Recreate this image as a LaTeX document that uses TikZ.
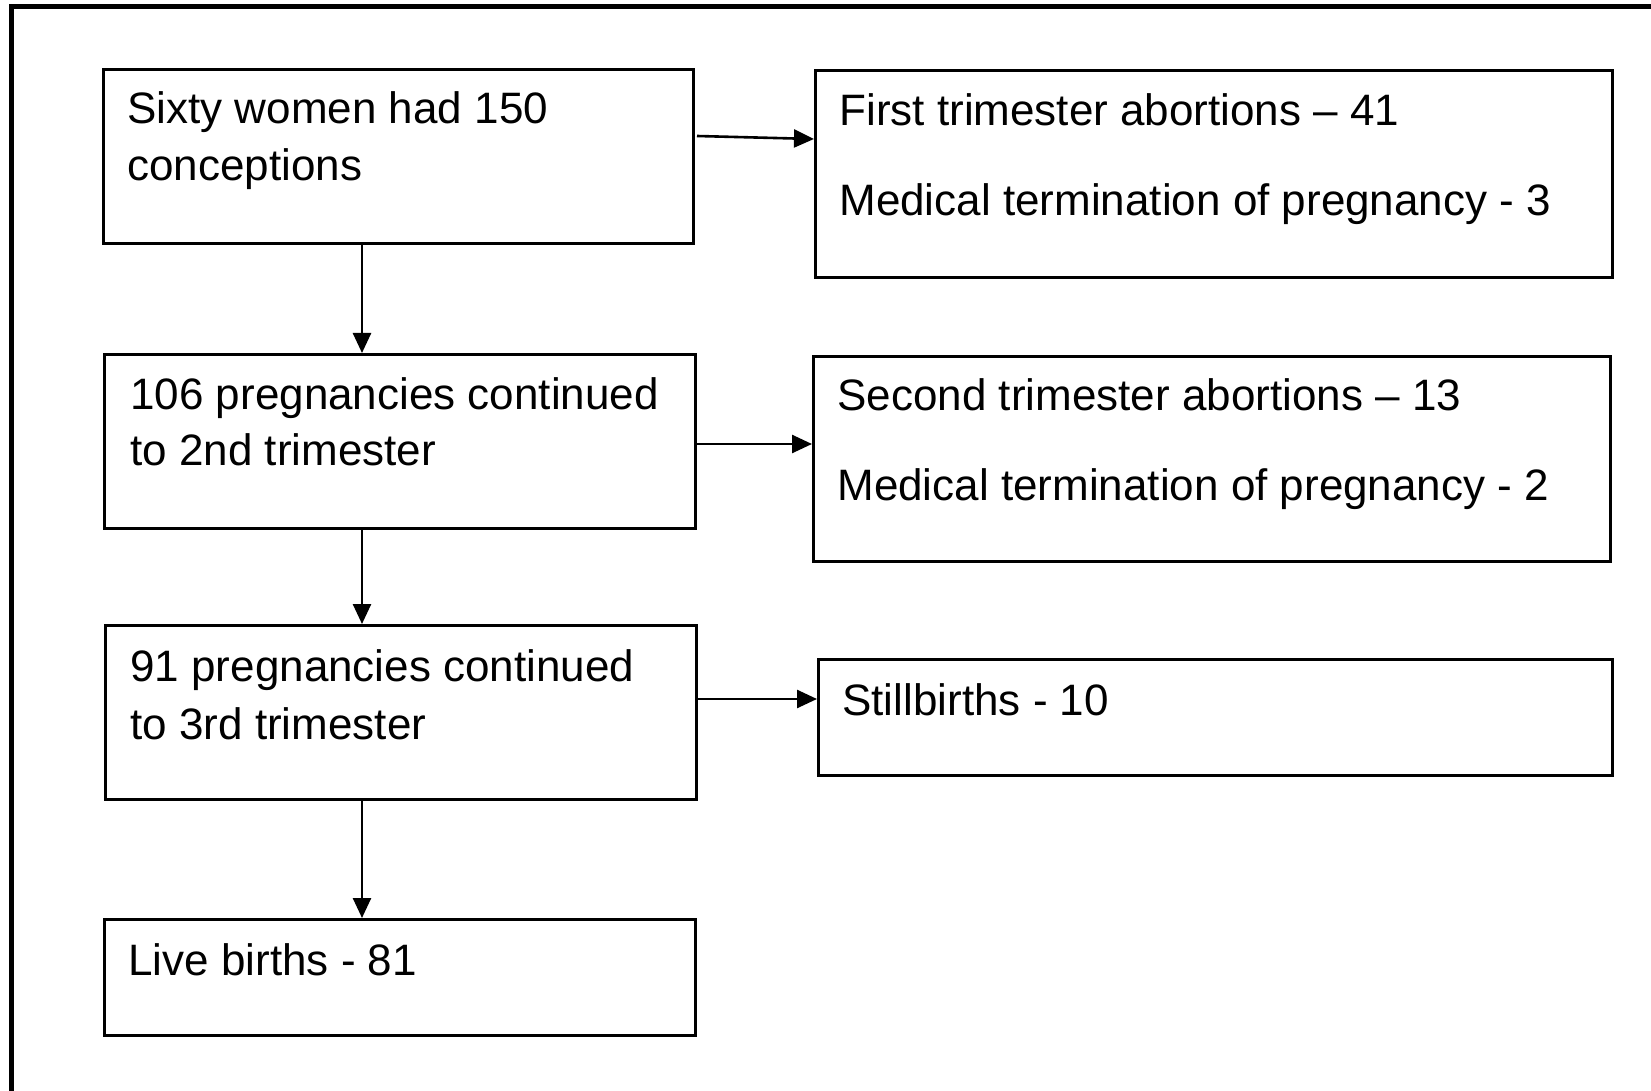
\documentclass[tikz,border=0pt]{standalone}
\usepackage{fontspec}
\setmainfont{Liberation Sans}
\usetikzlibrary{arrows.meta}
\begin{document}
\begin{tikzpicture}[x=0.5pt,y=-0.5pt,
  box/.style={draw=black,line width=1.3pt,rectangle,inner sep=0pt},
  txt/.style={anchor=base west,inner sep=0pt,font=\fontsize{22pt}{26pt}\selectfont},
  arr/.style={line width=1.3pt,-{Triangle[length=10pt,width=9pt]}},
  frame/.style={line width=2.3pt,line cap=rect}]
\useasboundingbox (0,0) rectangle (1651,1091);
% outer frame (only top and left edges visible)
\coordinate (fbl) at (11.3,1100);
\coordinate (ftl) at (11.3,6.7);
\coordinate (ftr) at (1660,6.7);
\draw[frame] (fbl) -- (ftl) -- (ftr);
% boxes
\node[box,anchor=north west,minimum width=295pt,minimum height=87pt] (b1) at (102,68) {};
\node[box,anchor=north west,minimum width=398.5pt,minimum height=103.5pt] (b2) at (814,69) {};
\node[box,anchor=north west,minimum width=295.5pt,minimum height=87pt] (b3) at (103,353) {};
\node[box,anchor=north west,minimum width=398.5pt,minimum height=102.5pt] (b4) at (812,355) {};
\node[box,anchor=north west,minimum width=295.5pt,minimum height=87pt] (b5) at (104,624) {};
\node[box,anchor=north west,minimum width=397pt,minimum height=58pt] (b6) at (817,658) {};
\node[box,anchor=north west,minimum width=295.5pt,minimum height=58pt] (b7) at (103,918) {};
% texts
\node[txt] (t1a) at (127,124) {Sixty women had 150};
\node[txt] (t1b) at (127,181) {conceptions};
\node[txt] (t2a) at (839,126) {First trimester abortions – 41};
\node[txt] (t2b) at (839,216) {Medical termination of pregnancy - 3};
\node[txt] (t3a) at (130,409) {106 pregnancies continued};
\node[txt] (t3b) at (130,466) {to 2nd trimester};
\node[txt] (t4a) at (837,411) {Second trimester abortions – 13};
\node[txt] (t4b) at (837,501) {Medical termination of pregnancy - 2};
\node[txt] (t5a) at (130,681) {91 pregnancies continued};
\node[txt] (t5b) at (130,739) {to 3rd trimester};
\node[txt] (t6a) at (842,715) {Stillbirths - 10};
\node[txt] (t7a) at (128,975) {Live births - 81};
% connector helper coordinates
\coordinate (v) at (362,0);
\coordinate (a1s) at (697,136);
\coordinate (a1e) at (814,139);
\coordinate (h2) at (0,444);
\coordinate (h3) at (0,699);
% connectors
\draw[arr] (a1s) -- (a1e);
\draw[arr] (b3.east |- h2) -- (b4.west |- h2);
\draw[arr] (b5.east |- h3) -- (b6.west |- h3);
\draw[arr] (b1.south -| v) -- (b3.north -| v);
\draw[arr] (b3.south -| v) -- (b5.north -| v);
\draw[arr] (b5.south -| v) -- (b7.north -| v);
\end{tikzpicture}
\end{document}
